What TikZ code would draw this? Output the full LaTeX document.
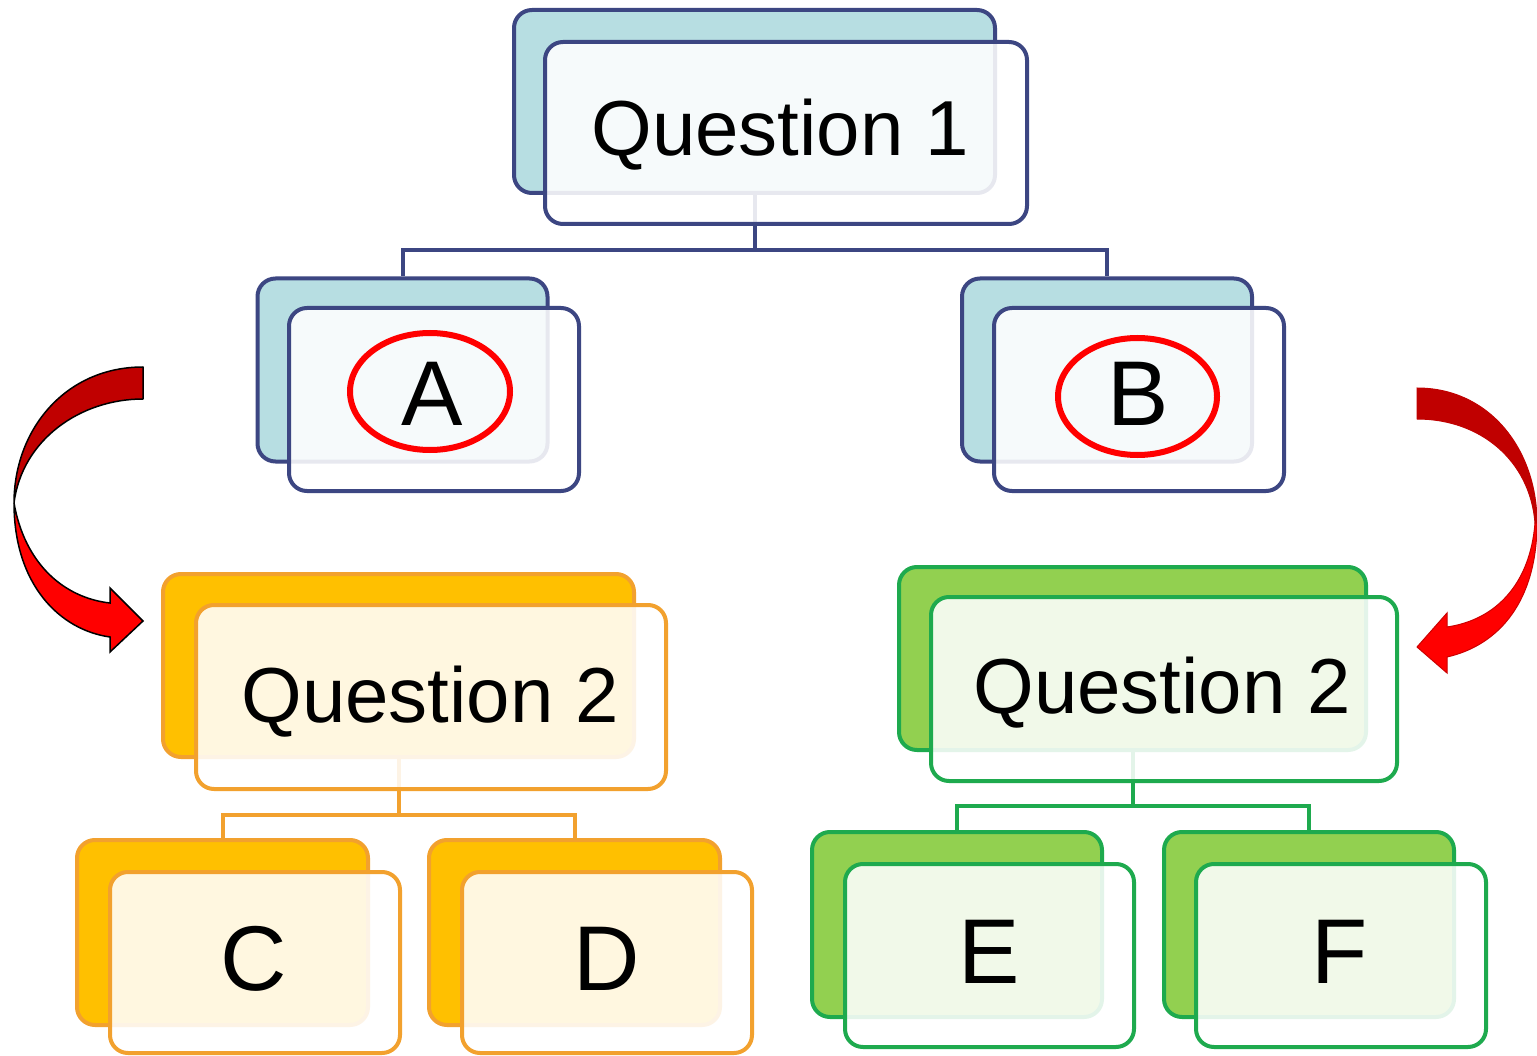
\documentclass[tikz,border=0pt]{standalone}
\usepackage{fontspec}
\setmainfont{Liberation Sans}
\usetikzlibrary{shapes.geometric}
\definecolor{navy}{RGB}{60,70,130}
\definecolor{lblue}{RGB}{183,222,226}
\definecolor{orng}{RGB}{242,161,46}
\definecolor{gold}{RGB}{255,192,0}
\definecolor{grn}{RGB}{30,170,78}
\definecolor{lgrn}{RGB}{146,208,80}
\definecolor{dred}{RGB}{192,0,0}
\definecolor{bred}{RGB}{255,0,0}
\tikzset{
  boxbase/.style={rectangle, rounded corners=18pt, line width=4pt, inner sep=0pt},
  navyback/.style={boxbase, draw=navy, fill=lblue},
  navyfront/.style={boxbase, draw=navy, fill=white, fill opacity=0.88, draw opacity=1},
  orngback/.style={boxbase, draw=orng, fill=gold},
  orngfront/.style={boxbase, draw=orng, fill=white, fill opacity=0.88, draw opacity=1},
  grnback/.style={boxbase, draw=grn, fill=lgrn},
  grnfront/.style={boxbase, draw=grn, fill=white, fill opacity=0.88, draw opacity=1},
  qtext/.style={anchor=base, inner sep=0pt, font=\fontsize{78}{80}\selectfont},
  ltext/.style={anchor=base, inner sep=0pt, font=\fontsize{92}{94}\selectfont},
  ring/.style={ellipse, draw=bred, line width=6pt, inner sep=0pt},
  conn/.style={line width=4pt},
  bigq/.style={minimum width=481pt, minimum height=183pt},
  smallbox/.style={minimum width=290pt, minimum height=183pt},
}
\begin{document}
\begin{tikzpicture}[x=1pt,y=-1pt]
\useasboundingbox[fill=white] (0,0) rectangle (1537,1056);

% ---------- boxes (back layers) ----------
\node[navyback, minimum width=481pt, minimum height=183pt] (q1b) at (754.5,101.5) {};
\node[navyback, smallbox] (ab) at (402.5,370) {};
\node[navyback, smallbox] (bb) at (1107,370) {};
\node[orngback, minimum width=471pt, minimum height=183pt] (q2lb) at (398.5,665.5) {};
\node[orngback, minimum width=291pt, minimum height=185pt] (cb) at (222.5,932.5) {};
\node[orngback, minimum width=291pt, minimum height=185pt] (db) at (574.5,932.5) {};
\node[grnback, minimum width=467pt, minimum height=183pt] (q2rb) at (1132.5,658.5) {};
\node[grnback, minimum width=290pt, minimum height=185pt] (eb) at (957,924.5) {};
\node[grnback, minimum width=290pt, minimum height=185pt] (fb) at (1309,924.5) {};

% ---------- connectors ----------
\coordinate (j1) at (754.5,250);
\coordinate (j2) at (398.5,815);
\coordinate (j3) at (1132.5,806);
\draw[conn, navy] (q1b.south) -- (j1);
\draw[conn, navy] (j1) -| (ab.north);
\draw[conn, navy] (j1) -| (bb.north);
\draw[conn, orng] (q2lb.south) -- (j2);
\draw[conn, orng] (j2) -| (cb.north);
\draw[conn, orng] (j2) -| (db.north);
\draw[conn, grn] (q2rb.south) -- (j3);
\draw[conn, grn] (j3) -| (eb.north);
\draw[conn, grn] (j3) -| (fb.north);

% ---------- boxes (front layers) ----------
\node[navyfront, minimum width=482pt, minimum height=182pt] (q1f) at (786,133) {};
\node[navyfront, smallbox] (af) at (434,399.5) {};
\node[navyfront, smallbox] (bf) at (1139,399.5) {};
\node[orngfront, minimum width=470pt, minimum height=184pt] (q2lf) at (431,697) {};
\node[orngfront, minimum width=290pt, minimum height=181pt] (cf) at (255,962.5) {};
\node[orngfront, minimum width=290pt, minimum height=181pt] (df) at (607,962.5) {};
\node[grnfront, minimum width=466pt, minimum height=184pt] (q2rf) at (1164,689) {};
\node[grnfront, minimum width=289pt, minimum height=183pt] (ef) at (989.5,955.5) {};
\node[grnfront, minimum width=290pt, minimum height=183pt] (ff) at (1341,955.5) {};

% ---------- texts ----------
\node[qtext] (q1t) at (780,156) {Question 1};
\node[qtext] (q2lt) at (430,722) {Question 2};
\node[qtext] (q2rt) at (1162,713) {Question 2};
\node[ltext] (at) at (432,426) {A};
\node[ltext] (bt) at (1138,425) {B};
\node[ltext] (ct) at (254,990) {C};
\node[ltext] (dt) at (607,990) {D};
\node[ltext] (et) at (989,983) {E};
\node[ltext] (ft) at (1340,983) {F};

% ---------- red rings ----------
\node[ring, minimum width=160pt, minimum height=117pt] (ringa) at (430,391.5) {};
\node[ring, minimum width=159pt, minimum height=117pt] (ringb) at (1137.5,396.5) {};

% ---------- curved arrows ----------
\draw[fill=dred, draw=black, line width=1.5pt, line join=round]
  (143,367) .. controls (65,367) and (14,430) .. (14,503)
  .. controls (22,440) and (80,399) .. (143,399) -- cycle;
\draw[fill=bred, draw=black, line width=1.5pt, line join=miter]
  (14,503) .. controls (14,585) and (60,630) .. (110,637)
  -- (110,652) -- (143,621) -- (110,588) -- (110,603)
  .. controls (65,598) and (25,565) .. (14,503) -- cycle;

\draw[fill=dred, draw=dred, line width=1pt]
  (1417,388) .. controls (1490,388) and (1537,450) .. (1537,523)
  -- (1535,523) .. controls (1530,460) and (1480,419) .. (1417,419) -- cycle;
\draw[fill=bred, draw=bred!80!black, line width=1pt]
  (1537,523) .. controls (1537,600) and (1500,645) .. (1447,657)
  -- (1447,673) -- (1417,647) -- (1447,613) -- (1447,627)
  .. controls (1495,620) and (1530,585) .. (1535,523) -- cycle;
\end{tikzpicture}
\end{document}
